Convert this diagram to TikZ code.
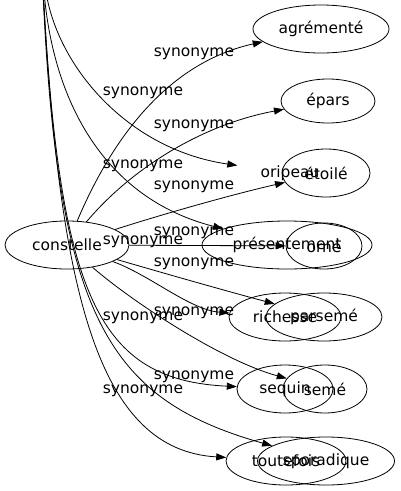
\documentclass[tikz,border=0pt]{standalone}
\usepackage{fontspec}
\setmainfont{DejaVu Sans}
\usetikzlibrary{arrows.meta,shapes.geometric}
\tikzset{
    mot/.style={ellipse, draw=black, line width=0.8pt, inner sep=0pt, font=\fontsize{15.5}{18}\selectfont},
    syn/.style={inner sep=0pt, font=\fontsize{15.5}{18}\selectfont},
    lien/.style={line width=0.8pt, -{Triangle[length=10pt,width=7pt]}}
}
\begin{document}
\begin{tikzpicture}[x=1pt,y=-1pt]
            \useasboundingbox (0,0) rectangle (401,491);

            \node[mot, draw=none, minimum width=60pt, minimum height=50pt] (source) at (42,-30) {};
            \node[mot, minimum width=124pt, minimum height=48pt] (constelle) at (67,245) {constelle};

            \node[mot, minimum width=136pt, minimum height=48pt] (agremente) at (321,29) {agrémenté};
            \node[mot, minimum width=94pt, minimum height=44pt] (epars) at (328,101) {épars};
            \node[mot, draw=none, minimum width=110pt, minimum height=48pt] (oripeau) at (290,173) {oripeau};
            \node[mot, minimum width=88pt, minimum height=48pt] (etoile) at (326,173) {étoilé};
            \node[mot, minimum width=170pt, minimum height=48pt] (presentement) at (287,245) {présentement};
            \node[mot, minimum width=76pt, minimum height=46pt] (orne) at (324,246) {orné};
            \node[mot, minimum width=112pt, minimum height=48pt] (richesse) at (285,317) {richesse};
            \node[mot, minimum width=116pt, minimum height=48pt] (parseme) at (324,317) {parsemé};
            \node[mot, minimum width=96pt, minimum height=48pt] (sequin) at (285,389) {sequin};
            \node[mot, minimum width=84pt, minimum height=48pt] (seme) at (325,389) {semé};
            \node[mot, minimum width=120pt, minimum height=48pt] (toutefois) at (286,461) {toutefois};
            \node[mot, minimum width=137pt, minimum height=48pt] (sporadique) at (326,461) {sporadique};

            \draw[lien] (source) .. controls (60,70) and (130,150) .. (oripeau);
            \draw[lien] (source) .. controls (55,110) and (110,200) .. (presentement);
            \draw[lien] (source) .. controls (60,300) and (100,380) .. (sequin);
            \draw[lien] (source) .. controls (60,300) and (100,450) .. (toutefois);
            \draw[lien] (source) .. controls (58,320) and (110,400) .. (sporadique);

            \draw[lien] (constelle) .. controls (120,120) and (180,60) .. (agremente);
            \draw[lien] (constelle) .. controls (130,170) and (200,125) .. (epars);
            \draw[lien] (constelle) .. controls (160,215) and (230,195) .. (etoile);
            \draw[lien] (constelle) -- (orne);
            \draw[lien] (constelle) .. controls (150,275) and (190,310) .. (richesse);
            \draw[lien] (constelle) .. controls (170,275) and (230,292) .. (parseme);
            \draw[lien] (constelle) .. controls (130,300) and (220,360) .. (seme);

            \node[syn] (s1) at (194,54) {synonyme};
            \node[syn] (s2) at (194,126) {synonyme};
            \node[syn] (s3) at (194,187) {synonyme};
            \node[syn] (s4) at (194,233) {synonyme};
            \node[syn] (s5) at (194,264) {synonyme};
            \node[syn] (s6) at (194,313) {synonyme};
            \node[syn] (s7) at (194,377) {synonyme};

            \node[syn] (h1) at (143,93) {synonyme};
            \node[syn] (h2) at (143,166) {synonyme};
            \node[syn] (h3) at (143,242) {synonyme};
            \node[syn] (h4) at (143,318) {synonyme};
            \node[syn] (h5) at (143,391) {synonyme};
        \end{tikzpicture}
\end{document}
